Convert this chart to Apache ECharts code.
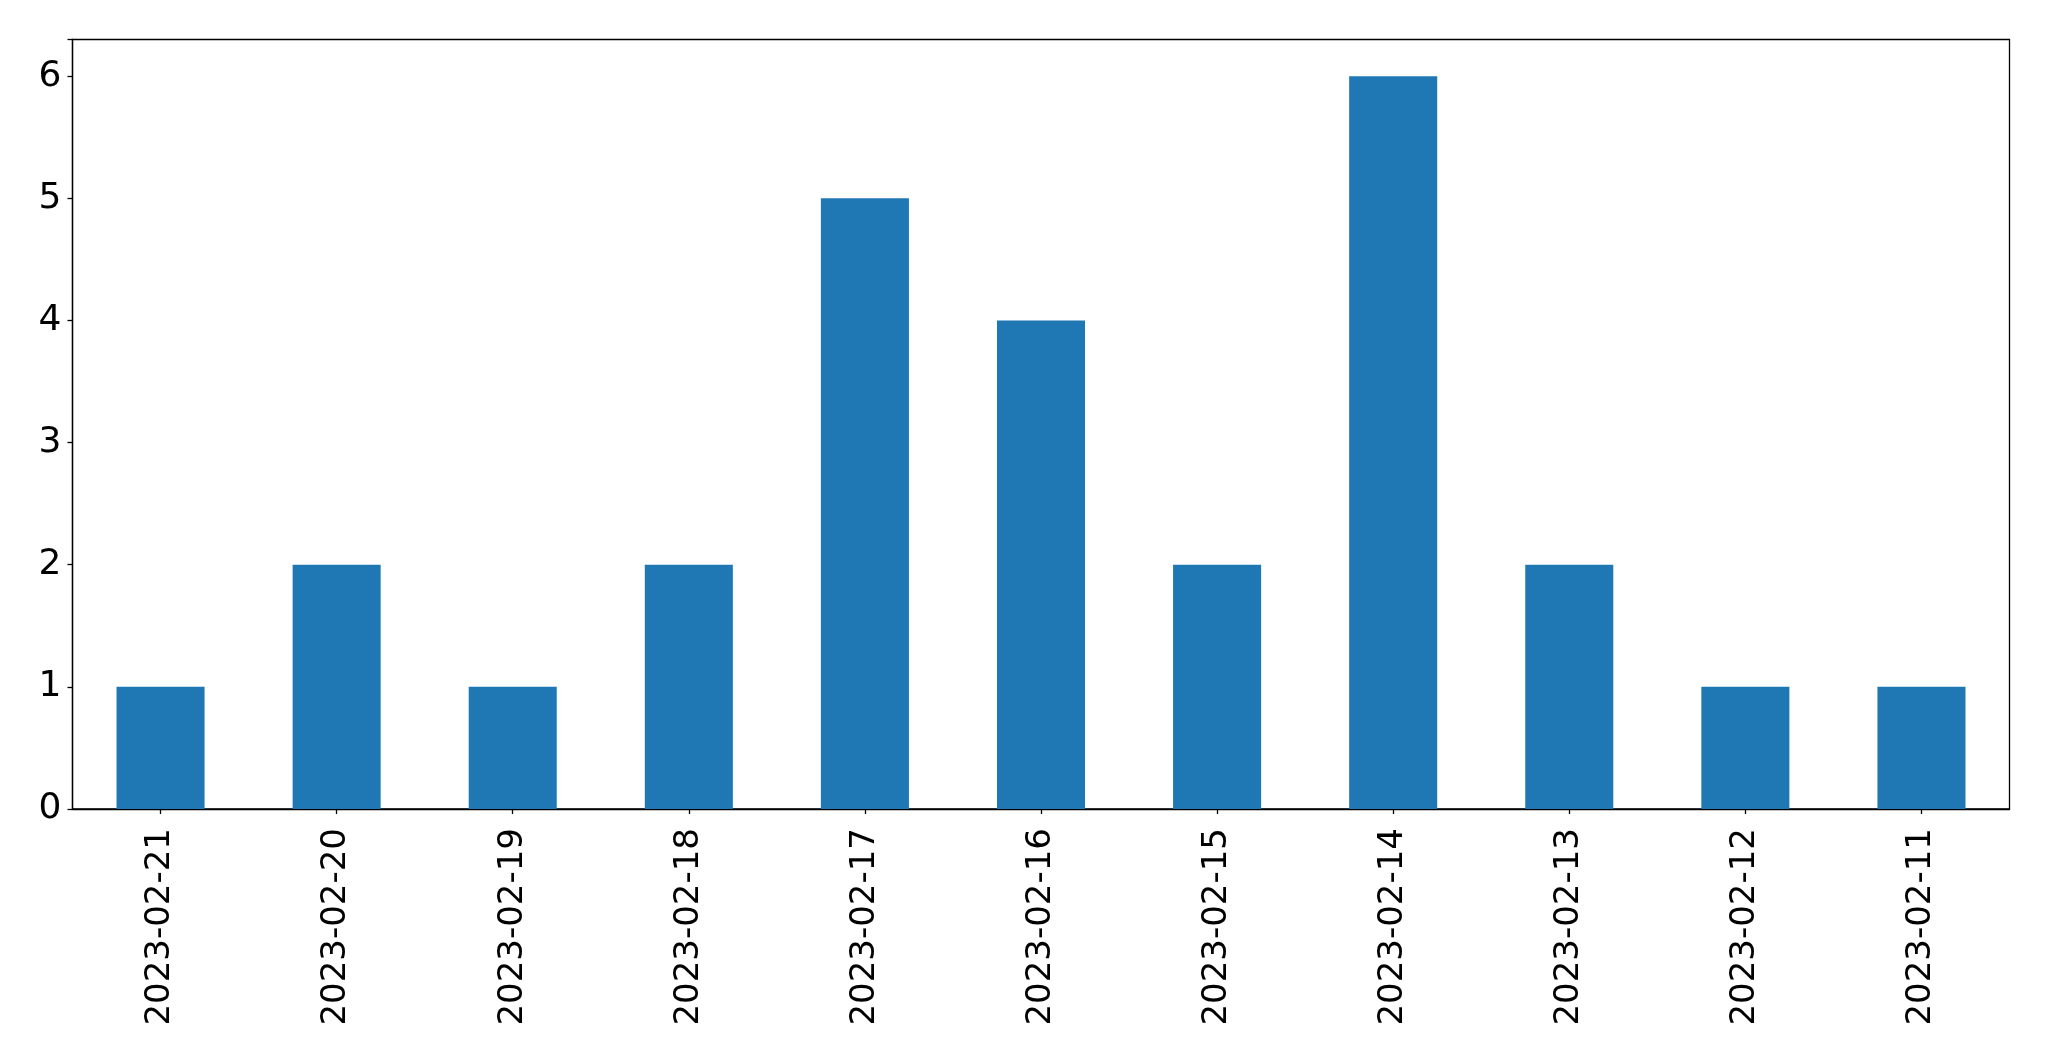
<!DOCTYPE html>
<html>
<head>
<meta charset="utf-8">
<style>
html,body{margin:0;padding:0;background:#fff;}
#chart{width:2049px;height:1061px;}
</style>
<script src="https://cdn.jsdelivr.net/npm/echarts@6/dist/echarts.min.js"></script>
</head>
<body>
<div id="chart"></div>
<script>
const categories = ["2023-02-21","2023-02-20","2023-02-19","2023-02-18","2023-02-17","2023-02-16","2023-02-15","2023-02-14","2023-02-13","2023-02-12","2023-02-11"];
const counts = [1,2,1,2,5,4,2,6,2,1,1];
const yTicks = [0,1,2,3,4,5,6];

const chart = echarts.init(document.getElementById('chart'), null, {renderer:'canvas'});
chart.setOption({
  animation:false,
  backgroundColor:'#fff',
  textStyle:{fontFamily:'DejaVu Sans'},
  grid:{left:72.5,top:39.5,width:1937,height:769.5,show:true,borderColor:'#000',borderWidth:1.3,containLabel:false},
  xAxis:{
    type:'category',
    data:categories,
    boundaryGap:true,
    axisLine:{show:true,lineStyle:{color:'#000',width:1.3}},
    axisTick:{show:true,alignWithLabel:true,length:5,lineStyle:{color:'#000',width:1.3}},
    axisLabel:{rotate:90,margin:19,fontSize:34,color:'#000',fontFamily:'DejaVu Sans',interval:0},
    splitLine:{show:false}
  },
  yAxis:{
    type:'value',
    min:0,max:6.3,interval:1,
    axisLine:{show:true,lineStyle:{color:'#000',width:1.3}},
    axisTick:{show:true,length:5,lineStyle:{color:'#000',width:1.3}},
    axisLabel:{margin:11,fontSize:36,color:'#000',fontFamily:'DejaVu Sans',
      formatter:function(v){return yTicks.indexOf(v)>=0?String(v):'';}},
    splitLine:{show:false}
  },
  series:[{
    type:'bar',
    data:counts,
    barWidth:'50%',
    itemStyle:{color:'#1f77b4'}
  }]
});
</script>
</body>
</html>
